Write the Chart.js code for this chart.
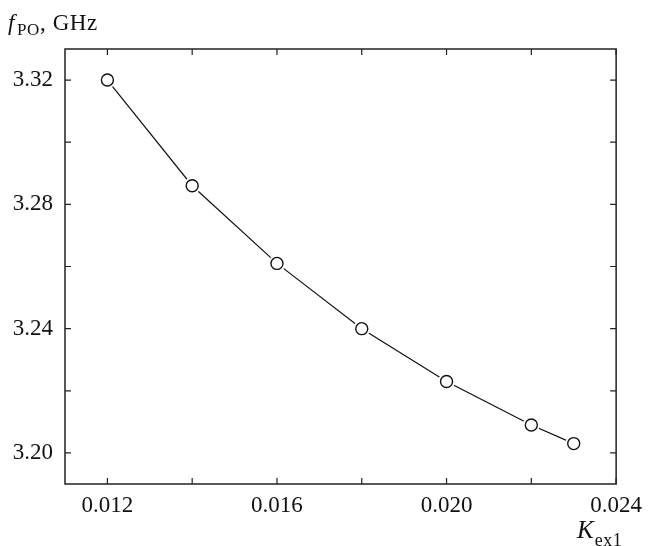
<!DOCTYPE html>
<html>
<head>
<meta charset="utf-8">
<script src="https://cdn.jsdelivr.net/npm/chart.js@4/dist/chart.umd.min.js"></script>
<style>
  html, body { margin: 0; padding: 0; background: #fff; overflow: hidden; }
  #wrap { position: relative; width: 650px; height: 546px; }
  .lbl { position: absolute; font-family: "Liberation Serif", serif; color: #111; line-height: 1; white-space: nowrap; }
  .lbl i { font-style: italic; }
  .lbl sub { vertical-align: baseline; position: relative; }
</style>
</head>
<body>
<div id="wrap">
  <canvas id="freq-chart" width="650" height="546"></canvas>
  <div class="lbl" style="left:8px; top:11px; font-size:23px; letter-spacing:0.6px;"><i>f</i><sub style="font-size:17px; top:5px; margin-left:2px;">PO</sub>, GHz</div>
  <div class="lbl" style="left:577px; top:517px; font-size:25px;"><i>K</i><sub style="font-size:18px; top:8px; margin-left:1px; letter-spacing:0.5px;">ex1</sub></div>
</div>
<script>
// K_ex1 values and measured frequency (GHz)
var kex = [0.012, 0.014, 0.016, 0.018, 0.020, 0.022, 0.023];
var fpo = [3.320, 3.286, 3.261, 3.240, 3.223, 3.209, 3.203];

// tick values
var xMajor = [0.012, 0.016, 0.020, 0.024];
var xMinor = [0.014, 0.018, 0.022];
var yMajor = [3.20, 3.24, 3.28, 3.32];
var yMinor = [3.22, 3.26, 3.30];

var serif = { family: 'Liberation Serif', size: 23 };

function isIn(list, v) {
    return list.some(function (t) { return Math.abs(t - v) < 1e-9; });
}

var points = kex.map(function (k, i) { return { x: k, y: fpo[i] }; });

// frame + inward ticks on all four sides
var frameTicks = {
    id: 'frameTicks',
    afterDatasetsDraw: function (chart) {
        var c = chart.ctx, a = chart.chartArea;
        var xs = chart.scales.x, ys = chart.scales.y;
        var len = 6;
        c.save();
        c.strokeStyle = '#222';
        c.lineWidth = 1.5;
        c.strokeRect(a.left, a.top, a.right - a.left, a.bottom - a.top);
        c.lineWidth = 1.2;
        c.beginPath();
        xMajor.concat(xMinor).forEach(function (v) {
            var px = xs.getPixelForValue(v);
            c.moveTo(px, a.bottom); c.lineTo(px, a.bottom - len);
            c.moveTo(px, a.top); c.lineTo(px, a.top + len);
        });
        yMajor.concat(yMinor).forEach(function (v) {
            var py = ys.getPixelForValue(v);
            c.moveTo(a.left, py); c.lineTo(a.left + len, py);
            c.moveTo(a.right, py); c.lineTo(a.right - len, py);
        });
        c.stroke();
        c.restore();
    }
};

var ctx = document.getElementById('freq-chart').getContext('2d');

var chart = new Chart(ctx, {
    type: 'scatter',
    data: {
        datasets: [{
            // open circle markers
            data: points,
            order: 0,
            pointRadius: 6,
            pointBorderWidth: 1.4,
            pointBorderColor: '#111',
            pointBackgroundColor: '#fff'
        }, {
            // white halo so the line stops short of each circle
            data: points,
            order: 1,
            pointRadius: 8.5,
            pointBorderWidth: 0,
            pointBorderColor: '#fff',
            pointBackgroundColor: '#fff'
        }, {
            data: points,
            order: 2,
            showLine: true,
            borderColor: '#111',
            borderWidth: 1.2,
            pointRadius: 0,
            tension: 0
        }]
    },
    options: {
        responsive: false,
        animation: false,
        layout: { padding: { top: 49, right: 31, left: 0, bottom: 0 } },
        plugins: { legend: { display: false }, tooltip: { enabled: false } },
        scales: {
            x: {
                type: 'linear',
                min: 0.011,
                max: 0.024,
                afterBuildTicks: function (scale) {
                    scale.ticks = xMajor.concat(xMinor).sort().map(function (v) { return { value: v }; });
                },
                afterFit: function (scale) { scale.height = 62; },
                grid: { display: false, drawTicks: false },
                border: { display: false },
                ticks: {
                    font: serif,
                    color: '#111',
                    padding: 8,
                    maxRotation: 0,
                    autoSkip: false,
                    callback: function (v) { return isIn(xMajor, v) ? v.toFixed(3) : ''; }
                }
            },
            y: {
                min: 3.19,
                max: 3.33,
                afterBuildTicks: function (scale) {
                    scale.ticks = yMajor.concat(yMinor).sort().map(function (v) { return { value: v }; });
                },
                afterFit: function (scale) { scale.width = 65; },
                grid: { display: false, drawTicks: false },
                border: { display: false },
                ticks: {
                    font: serif,
                    color: '#111',
                    padding: 12,
                    autoSkip: false,
                    callback: function (v) { return isIn(yMajor, v) ? v.toFixed(2) : ''; }
                }
            }
        }
    },
    plugins: [frameTicks]
});
</script>
</body>
</html>
